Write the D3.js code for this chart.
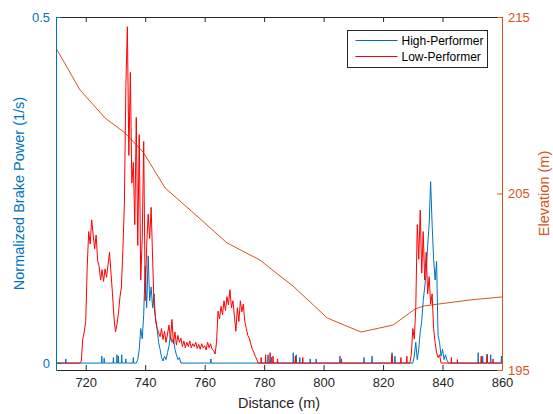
<!DOCTYPE html>
<html>
<head>
<meta charset="utf-8">
<script src="https://cdn.jsdelivr.net/npm/d3@7"></script>
<style>
  body { margin: 0; background: #fff; }
  svg { font-family: "Liberation Sans", Arial, Helvetica, sans-serif; }
</style>
</head>
<body>
<div id="chart"></div>
<script>
// distance ticks and axis ranges
var distTicks = [720, 740, 760, 780, 800, 820, 840, 860];
var powerTicks = [0, 0.5];
var elevTicks = [195, 205, 215];

// elevation profile (m) along distance (m)
var elevDist = [710, 718.1, 726.5, 733.2, 739.3, 746.7, 755.1, 767.5, 778.6, 785.3, 789.7, 801.2, 812.6, 823.4, 830.8, 833.8, 849.3, 860];
var elevValue = [213.24, 210.86, 209.28, 208.43, 207.35, 205.31, 204.07, 202.2, 201.23, 200.33, 199.76, 197.95, 197.15, 197.55, 198.46, 198.63, 198.97, 199.14];

// sample step of the braking segments (m)
var segStep = 0.5;

// High-Performer braking segments
var highSeg1Start = 737;
var highSeg1 = [0, 0.005, 0.02, 0.05, 0.035, 0.07, 0.14, 0.08, 0.155, 0.09, 0.11, 0.08, 0.1, 0.06, 0.05, 0.03,
  0.02, 0.008, 0.003, 0.01, 0.005, 0.015, 0.025, 0.04, 0.03, 0.035, 0.02, 0.012, 0.005, 0.008, 0];
var highSeg2Start = 830;
var highSeg2 = [0, 0.01, 0.03, 0.005, 0.02, 0.045, 0.06, 0.09, 0.11, 0.13, 0.17, 0.2, 0.262, 0.2, 0.15, 0.12,
  0.147, 0.04, 0.03, 0.01, 0.02, 0.005, 0.012, 0.004, 0];
// High-Performer isolated spikes
var highSpikeDist = [713.3, 725.4, 726.2, 729.3, 730.5, 731, 732.1, 733.5, 736, 762.1, 781.3, 782.5, 789.8, 790.8, 792, 795.5, 797.5, 805.5, 813.6, 816.3, 823, 824, 852, 853.5, 855, 856.2, 859.8];
var highSpikeVal = [0.006, 0.01, 0.007, 0.008, 0.012, 0.01, 0.012, 0.006, 0.008, 0.006, 0.012, 0.008, 0.015, 0.012, 0.008, 0.006, 0.006, 0.01, 0.008, 0.01, 0.015, 0.01, 0.015, 0.01, 0.013, 0.012, 0.01];

// Low-Performer braking segments
var lowSeg1Start = 718;
var lowSeg1 = [0, 0.003, 0.035, 0.045, 0.06, 0.14, 0.19, 0.172, 0.207, 0.185, 0.165, 0.185, 0.148, 0.14, 0.12, 0.135,
  0.118, 0.136, 0.124, 0.142, 0.16, 0.13, 0.1, 0.066, 0.045, 0.056, 0.072, 0.095, 0.11, 0.165, 0.23, 0.4,
  0.486, 0.3, 0.42, 0.26, 0.29, 0.2, 0.355, 0.17, 0.33, 0.12, 0.18, 0.32, 0.09, 0.17, 0.215, 0.18,
  0.225, 0.15, 0.08, 0.065, 0.05, 0.044, 0.038, 0.05, 0.034, 0.046, 0.03, 0.042, 0.055, 0.034, 0.063, 0.028,
  0.045, 0.026, 0.04, 0.03, 0.036, 0.024, 0.032, 0.022, 0.03, 0.024, 0.032, 0.022, 0.028, 0.024, 0.03, 0.021,
  0.027, 0.02, 0.028, 0.022, 0.025, 0.019, 0.03, 0.022, 0.028, 0.02, 0.018, 0.013, 0.03, 0.075, 0.064, 0.082,
  0.07, 0.09, 0.076, 0.096, 0.084, 0.106, 0.08, 0.09, 0.068, 0.046, 0.08, 0.06, 0.09, 0.074, 0.085, 0.06,
  0.05, 0.04, 0.036, 0.028, 0.02, 0.016, 0.01, 0.006, 0];
var lowSeg2Start = 829;
var lowSeg2 = [0, 0.012, 0.05, 0.035, 0.08, 0.2, 0.15, 0.221, 0.13, 0.19, 0.12, 0.16, 0.1, 0.125, 0.085, 0.1,
  0.05, 0.03, 0.015, 0.008, 0.012, 0];
// Low-Performer isolated spikes
var lowSpikeDist = [779, 780.5, 782, 783, 784.5, 790.5, 793, 806, 823, 826, 828, 843, 845, 853, 855, 857];
var lowSpikeVal = [0.008, 0.012, 0.015, 0.01, 0.006, 0.01, 0.008, 0.006, 0.012, 0.008, 0.01, 0.008, 0.005, 0.01, 0.012, 0.006];

var blue = "#0072BD", orange = "#D95319", red = "#FF0000", dark = "#262626";

var width = 553, height = 414;
var margin = {top: 17, right: 51, bottom: 44, left: 56};
var x = d3.scaleLinear().domain([710, 860]).range([margin.left, width - margin.right]);
var yL = d3.scaleLinear().domain([-0.01, 0.5]).range([height - margin.bottom, margin.top]);
var yR = d3.scaleLinear().domain([195, 215]).range([height - margin.bottom, margin.top]);

function buildSeries(segs, spikeDist, spikeVal) {
  var pts = [[710, 0], [860, 0]];
  segs.forEach(function(s) {
    s.values.forEach(function(v, i) { pts.push([s.start + i * segStep, v]); });
  });
  spikeDist.forEach(function(d, i) {
    pts.push([d - 0.1, 0], [d, spikeVal[i]], [d + 0.1, 0]);
  });
  return pts.sort(function(a, b) { return a[0] - b[0]; });
}

var highData = buildSeries([{start: highSeg1Start, values: highSeg1}, {start: highSeg2Start, values: highSeg2}], highSpikeDist, highSpikeVal);
var lowData = buildSeries([{start: lowSeg1Start, values: lowSeg1}, {start: lowSeg2Start, values: lowSeg2}], lowSpikeDist, lowSpikeVal);
var elevData = elevDist.map(function(d, i) { return [d, elevValue[i]]; });

var svg = d3.select("#chart").append("svg")
  .attr("width", width)
  .attr("height", height);

svg.append("clipPath").attr("id", "plotclip")
  .append("rect")
  .attr("x", margin.left).attr("y", margin.top)
  .attr("width", x.range()[1] - margin.left)
  .attr("height", yL.range()[0] - margin.top);

var plot = svg.append("g").attr("clip-path", "url(#plotclip)");

var lineL = d3.line().x(function(d) { return x(d[0]); }).y(function(d) { return yL(d[1]); });
var lineR = d3.line().x(function(d) { return x(d[0]); }).y(function(d) { return yR(d[1]); });

plot.append("path").datum(elevData)
  .attr("d", lineR).attr("fill", "none").attr("stroke", orange).attr("stroke-width", 1);
plot.append("path").datum(highData)
  .attr("d", lineL).attr("fill", "none").attr("stroke", blue).attr("stroke-width", 1);
plot.append("path").datum(lowData)
  .attr("d", lineL).attr("fill", "none").attr("stroke", red).attr("stroke-width", 1);

// axes
var yBottom = yL.range()[0], xRight = x.range()[1];

var xAxis = d3.axisBottom(x).tickValues(distTicks).tickSizeInner(-5).tickSizeOuter(0).tickPadding(8);
var gx = svg.append("g").attr("transform", "translate(0," + yBottom + ")").call(xAxis);
var xTop = d3.axisTop(x).tickValues(distTicks).tickSizeInner(-5).tickSizeOuter(0).tickFormat("");
var gxt = svg.append("g").attr("transform", "translate(0," + margin.top + ")").call(xTop);
[gx, gxt].forEach(function(g) {
  g.selectAll("path, line").attr("stroke", dark);
  g.selectAll("text").attr("fill", dark).style("font-size", "13px");
});

var yAxisL = d3.axisLeft(yL).tickValues(powerTicks).tickSizeInner(-5).tickSizeOuter(0).tickPadding(6).tickFormat(d3.format(""));
var gyl = svg.append("g").attr("transform", "translate(" + margin.left + ",0)").call(yAxisL);
gyl.selectAll("path, line").attr("stroke", blue);
gyl.selectAll("text").attr("fill", blue).style("font-size", "13px");

var yAxisR = d3.axisRight(yR).tickValues(elevTicks).tickSizeInner(-5).tickSizeOuter(0).tickPadding(6);
var gyr = svg.append("g").attr("transform", "translate(" + xRight + ",0)").call(yAxisR);
gyr.selectAll("path, line").attr("stroke", orange);
gyr.selectAll("text").attr("fill", orange).style("font-size", "13px");

svg.selectAll(".domain").attr("stroke-width", 1);

// axis titles
svg.append("text")
  .attr("x", (margin.left + xRight) / 2).attr("y", 408)
  .attr("text-anchor", "middle").attr("fill", dark).style("font-size", "14.5px")
  .text("Distance (m)");
svg.append("text")
  .attr("transform", "translate(24," + (margin.top + yBottom) / 2 + ") rotate(-90)")
  .attr("text-anchor", "middle").attr("fill", blue).style("font-size", "14.5px")
  .text("Normalized Brake Power (1/s)");
svg.append("text")
  .attr("transform", "translate(549," + (margin.top + yBottom) / 2 + ") rotate(-90)")
  .attr("text-anchor", "middle").attr("fill", orange).style("font-size", "14.5px")
  .text("Elevation (m)");

// legend
var legend = svg.append("g").attr("transform", "translate(347.5,30.5)");
legend.append("rect").attr("width", 140).attr("height", 37)
  .attr("fill", "#fff").attr("stroke", dark).attr("stroke-width", 1);
[["High-Performer", blue], ["Low-Performer", red]].forEach(function(item, i) {
  var yy = 10 + i * 16;
  legend.append("line").attr("x1", 8).attr("x2", 50).attr("y1", yy).attr("y2", yy)
    .attr("stroke", item[1]).attr("stroke-width", 1);
  legend.append("text").attr("x", 54).attr("y", yy).attr("dy", "0.35em")
    .attr("fill", "#000").style("font-size", "12px").text(item[0]);
});
</script>
</body>
</html>
